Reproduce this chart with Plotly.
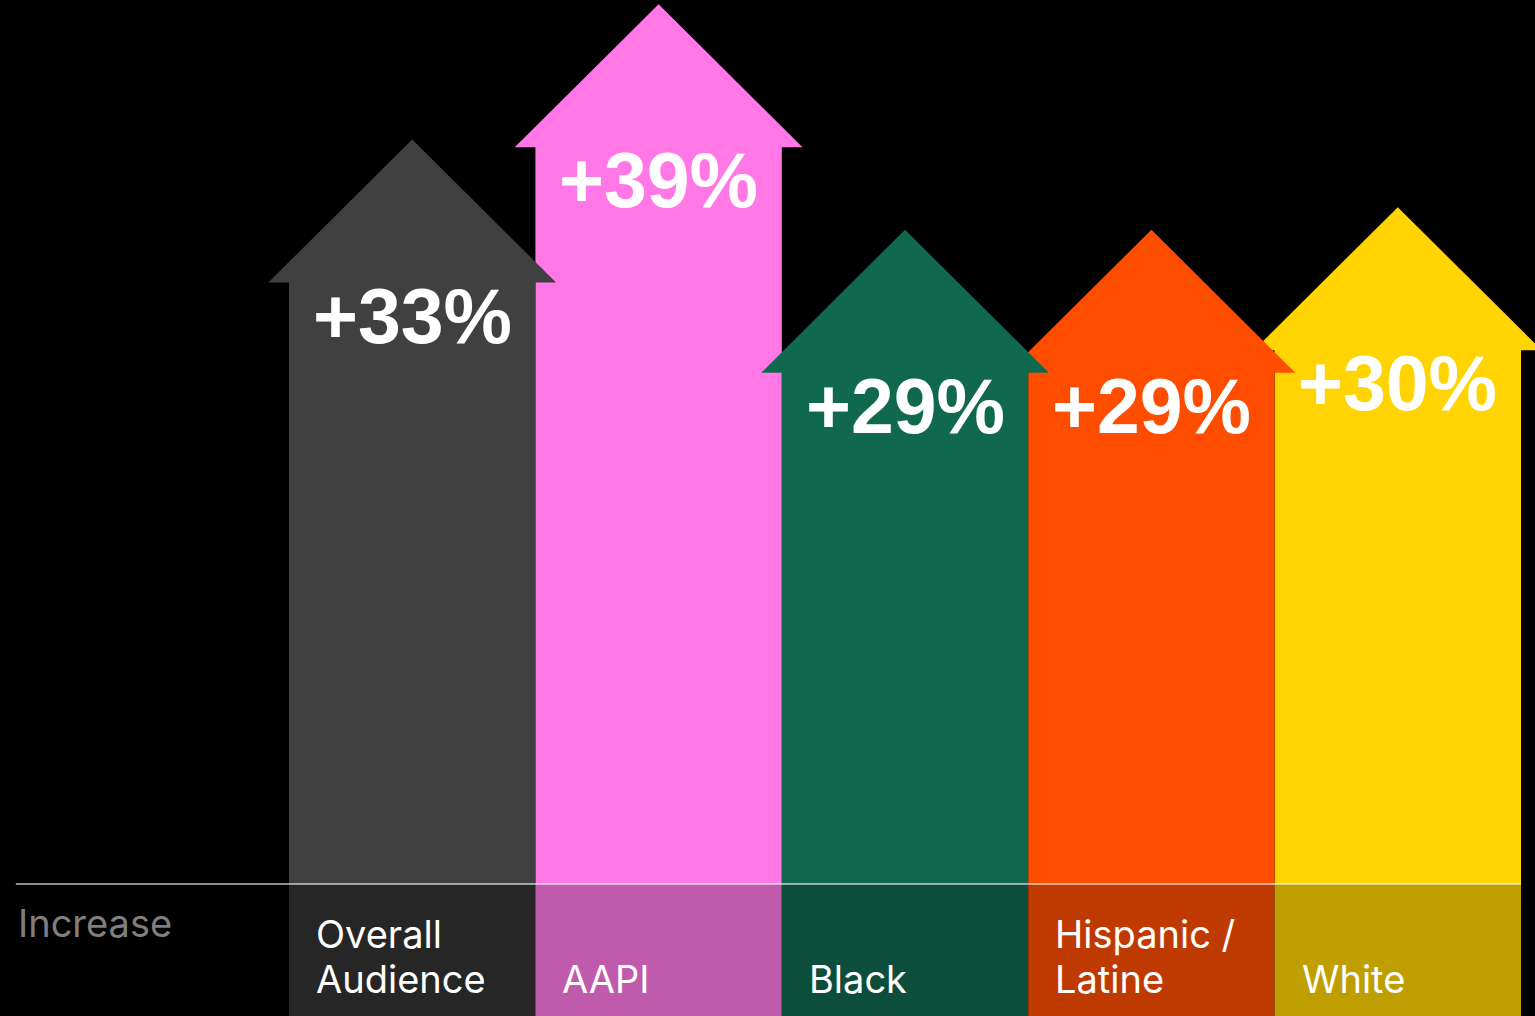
import plotly.graph_objects as go

# Audience growth by group
categories = [["Overall", "Audience"], ["AAPI"], ["Black"], ["Hispanic /", "Latine"], ["White"]]
increase_pct = [33, 39, 29, 29, 30]
value_labels = ["+33%", "+39%", "+29%", "+29%", "+30%"]
arrow_colors = ["#404040", "#ff78e6", "#10694e", "#ff4d00", "#ffd400"]
band_colors = ["#262626", "#bf5aad", "#0c4d3b", "#bf3a00", "#bf9f00"]
row_label = "Increase"

# stacking order of the arrows (later ones are drawn on top)
draw_order = [1, 4, 3, 2, 0]

# geometry of an arrow, in axis units
HEAD_OVERHANG = 0.084   # how far the head sticks out past the shaft on each side
HEAD_HEIGHT = 6.34      # vertical size of the triangular head

X_RANGE = [-1.1729, 5.0568]
Y_RANGE = [-5.851, 39.184]

TEXT_FONT = "Inter"
VALUE_FONT = "Liberation Sans"
LINE_PITCH = 45  # px between lines of a category name

fig = go.Figure()

# darker band under the baseline holding the category names
fig.add_trace(go.Bar(
    x=[i + 0.5 for i in range(len(categories))],
    y=[Y_RANGE[0]] * len(categories),
    width=1.0,
    marker=dict(color=band_colors, line=dict(width=0)),
    hoverinfo="skip",
    showlegend=False,
))

# arrow-shaped bars, tip at the value
for i in draw_order:
    v = increase_pct[i]
    shoulder = v - HEAD_HEIGHT
    xs = [i, i, i - HEAD_OVERHANG, i + 0.5, i + 1 + HEAD_OVERHANG, i + 1, i + 1, i]
    ys = [0, shoulder, shoulder, v, shoulder, shoulder, 0, 0]
    fig.add_trace(go.Scatter(
        x=xs, y=ys, mode="lines", fill="toself",
        fillcolor=arrow_colors[i], line=dict(width=0, color=arrow_colors[i]),
        hoverinfo="skip", showlegend=False,
    ))
    fig.add_annotation(
        x=i + 0.5, y=shoulder, xref="x", yref="y",
        text=value_labels[i], showarrow=False,
        xanchor="center", yanchor="middle", yshift=-33,
        font=dict(family=VALUE_FONT, size=77, color="white", weight=700),
    )

# category names inside the band, bottom-aligned
for i, lines in enumerate(categories):
    n = len(lines)
    for k, line in enumerate(lines):
        fig.add_annotation(
            x=i, y=0, xref="x", yref="paper",
            text=line, showarrow=False, align="left",
            xanchor="left", yanchor="bottom", xshift=25,
            yshift=12 + (n - 1 - k) * LINE_PITCH,
            font=dict(family=TEXT_FONT, size=38, color="white"),
        )

# row caption on the left
fig.add_annotation(
    x=-1.1085, y=0, xref="x", yref="y",
    text=row_label, showarrow=False,
    xanchor="left", yanchor="top", yshift=-14,
    font=dict(family=TEXT_FONT, size=38, color="#7f7f7f"),
)

# baseline rule
fig.add_shape(
    type="line", xref="x", yref="y",
    x0=-1.1085, x1=5, y0=0, y1=0,
    line=dict(color="rgba(255,255,255,0.55)", width=2),
    layer="above",
)

fig.update_layout(
    width=1535, height=1016,
    margin=dict(l=0, r=0, t=0, b=0),
    paper_bgcolor="black", plot_bgcolor="black",
    barmode="overlay",
    xaxis=dict(range=X_RANGE, visible=False, fixedrange=True),
    yaxis=dict(range=Y_RANGE, visible=False, fixedrange=True),
    showlegend=False,
)

fig.write_html("out.html")
